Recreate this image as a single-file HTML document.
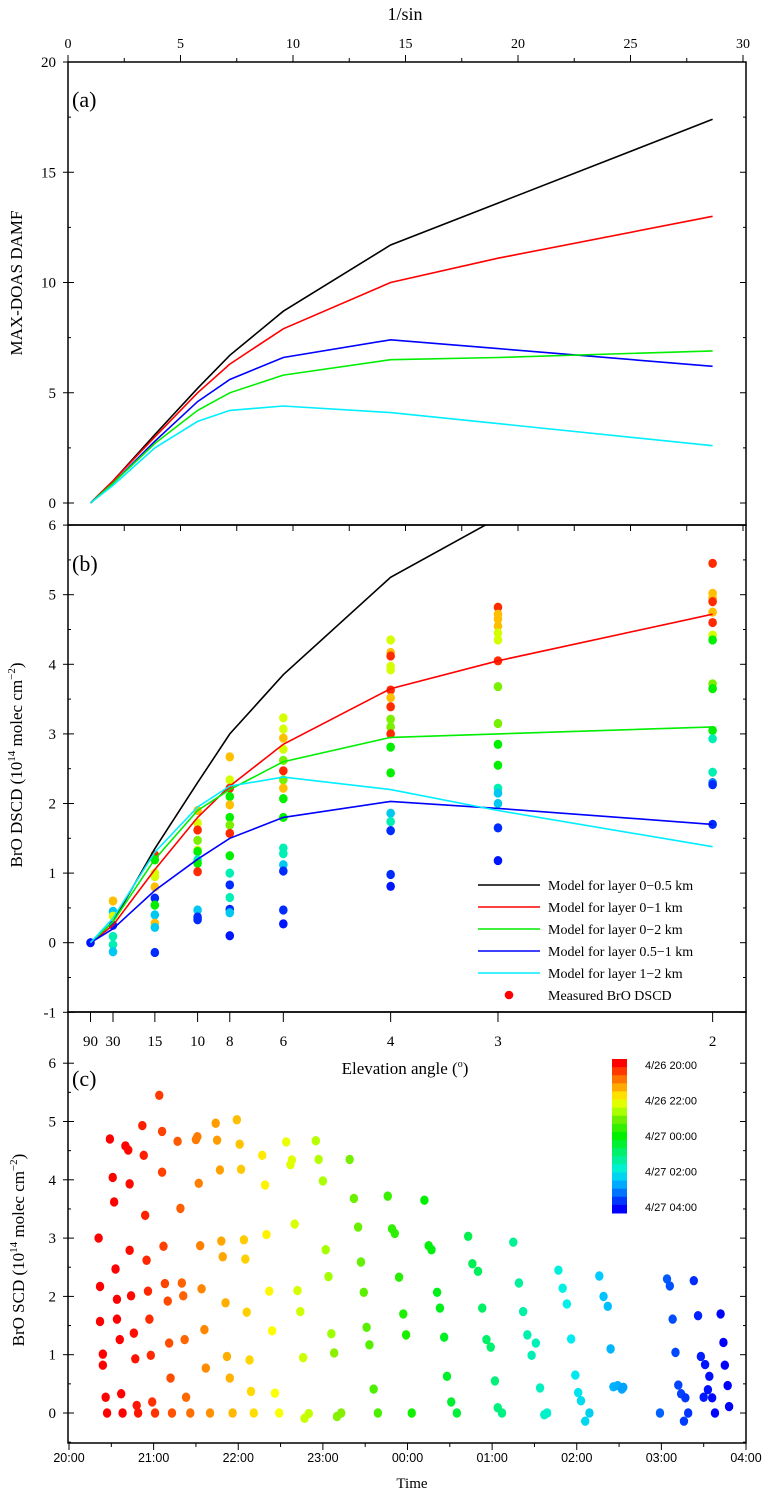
<!DOCTYPE html>
<html><head><meta charset="utf-8"><style>
body{margin:0;background:#fff;width:765px;height:1492px;overflow:hidden}
svg{display:block}
.s{font-family:"Liberation Serif",serif}
.a{font-family:"Liberation Sans",sans-serif}
</style></head><body>
<svg id="chart" width="765" height="1492" viewBox="0 0 765 1492" xmlns="http://www.w3.org/2000/svg">
<defs><clipPath id="clipb"><rect x="68" y="525" width="678" height="487"/></clipPath></defs>
</svg>
<script>
// ---- data ----
const invSinX = [1, 2, 3.86, 5.76, 7.19, 9.57, 14.34, 19.11, 28.65];
const elevLabels = ["90","30","15","10","8","6","4","3","2"];
const dampBlack = [0, 1.0, 3.1, 5.2, 6.7, 8.7, 11.7, 13.6, 17.4];
const dampRed = [0, 1.0, 3.0, 5.0, 6.3, 7.9, 10.0, 11.1, 13.0];
const dampBlue = [0, 0.9, 2.8, 4.6, 5.6, 6.6, 7.4, 7.0, 6.2];
const dampGreen = [0, 0.9, 2.7, 4.2, 5.0, 5.8, 6.5, 6.6, 6.9];
const dampCyan = [0, 0.8, 2.5, 3.7, 4.2, 4.4, 4.1, 3.6, 2.6];
const modBlack = [0, 0.3, 1.35, 2.3, 3.0, 3.85, 5.25, 6.1, 7.6];
const modRed = [0, 0.25, 1.05, 1.8, 2.25, 2.85, 3.65, 4.05, 4.72];
const modGreen = [0, 0.3, 1.2, 1.9, 2.2, 2.6, 2.95, 3.0, 3.1];
const modBlue = [0, 0.2, 0.75, 1.2, 1.5, 1.8, 2.03, 1.93, 1.7];
const modCyan = [0, 0.35, 1.3, 1.95, 2.25, 2.38, 2.2, 1.9, 1.38];
// measured points panel b: index into invSinX, value, time (minutes after 20:00 for colour)
const measIdx = [0,
1,1,1,1,1,1,1,
2,2,2,2,2,2,2,2,2,2,2,
3,3,3,3,3,3,3,3,3,3,3,3,
4,4,4,4,4,4,4,4,4,4,4,4,4,4,4,
5,5,5,5,5,5,5,5,5,5,5,5,5,5,5,5,
6,6,6,6,6,6,6,6,6,6,6,6,6,6,6,6,6,6,
7,7,7,7,7,7,7,7,7,7,7,7,7,7,7,7,
8,8,8,8,8,8,8,8,8,8,8,8,8,8,8,8];
const measVal = [0,
0.6,0.45,0.38,0.25,0.09,-0.03,-0.13,
1.26,1.19,1.0,0.95,0.8,0.64,0.54,0.4,0.28,0.22,-0.14,
1.9,1.72,1.62,1.47,1.33,1.31,1.19,1.14,1.02,0.47,0.37,0.33,
2.67,2.34,2.22,2.1,1.98,1.8,1.69,1.57,1.25,1.0,0.83,0.65,0.48,0.43,0.1,
3.23,3.07,2.94,2.78,2.62,2.47,2.34,2.22,2.07,1.8,1.36,1.28,1.12,1.03,0.47,0.27,
4.35,4.17,4.12,3.97,3.92,3.63,3.52,3.39,3.21,3.1,3.0,2.81,2.44,1.86,1.74,1.61,0.98,0.81,
4.82,4.72,4.65,4.55,4.45,4.35,4.05,3.68,3.15,2.85,2.55,2.22,2.15,2.0,1.65,1.18,
5.45,5.02,4.95,4.9,4.75,4.6,4.42,4.35,3.72,3.65,3.05,2.93,2.45,2.3,2.27,1.7];
const measTime = [470,
90,380,140,460,330,330,380,
20,240,140,140,90,460,240,380,90,380,460,
90,140,20,180,140,240,330,240,20,380,460,460,
90,140,20,240,90,240,180,20,240,330,460,330,460,380,470,
140,140,90,140,180,20,180,90,240,240,330,330,380,460,460,470,
140,90,20,140,140,20,90,20,180,180,20,240,240,380,330,460,460,470,
20,90,90,90,140,140,20,180,180,240,240,330,380,380,460,470,
20,90,90,20,90,20,140,240,180,240,240,330,330,420,460,460];
// panel c: minutes after 20:00, BrO SCD
const timeMin = [21,22,22,24,24,26,27,29,31,32,33,34,34,36,37,38,40,42,43,43,44,46,47,48,49,52,53,54,55,56,57,58,59,61,64,66,66,67,68,70,71,72,73,77,79,80,81,82,83,86,90,91,92,93,94,96,97,100,104,105,107,108,109,111,112,114,116,119,121,122,124,125,126,128,129,131,137,139,140,142,144,146,149,154,157,158,160,162,164,166,167,170,175,177,180,182,184,186,188,190,193,199,202,205,207,209,211,213,216,219,226,229,231,234,237,239,243,252,255,257,261,263,266,268,271,275,283,286,290,293,296,299,302,304,307,315,319,322,325,328,331,334,337,339,347,350,353,356,359,361,363,366,369,376,379,382,384,386,389,392,393,419,424,426,428,430,432,434,436,437,439,443,446,448,451,450,453,454,456,458,462,464,465,467,468];
const scdVal = [3.0,2.17,1.57,1.01,0.82,0.27,0,4.7,4.04,3.62,2.47,1.95,1.61,1.26,0.33,0,4.58,4.51,3.93,2.79,2.01,1.37,0.93,0.13,0,4.93,4.42,3.39,2.62,2.09,1.61,0.99,0.19,0,5.45,4.83,4.13,2.86,2.22,1.92,1.2,0.6,0,4.66,3.51,2.23,2.01,1.26,0.27,0,4.69,4.74,3.94,2.87,2.13,1.43,0.77,0,4.97,4.68,4.17,2.95,2.68,1.89,0.97,0.6,0,5.03,4.61,4.18,2.97,2.64,1.73,0.91,0.37,0,4.42,3.91,3.06,2.09,1.41,0.34,0,4.65,4.26,4.34,3.24,2.1,1.74,0.95,-0.09,-0.01,4.67,4.35,3.98,2.8,2.34,1.36,1.03,-0.06,0,4.35,3.68,3.19,2.59,2.07,1.47,1.17,0.41,0,3.72,3.16,3.08,2.33,1.7,1.34,0,3.65,2.87,2.8,2.07,1.8,1.3,0.63,0.19,0,3.03,2.56,2.43,1.8,1.26,1.13,0.55,0.09,0,2.93,2.23,1.74,1.34,0.99,1.2,0.43,-0.03,0,2.45,2.14,1.87,1.27,0.65,0.35,0.21,-0.14,0,2.35,2.0,1.83,1.1,0.45,0.47,0.41,0.44,0,2.3,2.18,1.61,1.04,0.48,0.33,-0.14,0.26,0,2.27,1.67,0.97,0.83,0.27,0.4,0.63,0.26,0,1.7,1.21,0.82,0.47,0.11];
const topTicks = [0,5,10,15,20,25,30];
const aTicks = [0,5,10,15,20];
const bTicks = [-1,0,1,2,3,4,5,6];
const cTicks = [0,1,2,3,4,5,6];
const hourLabels = ["20:00","21:00","22:00","23:00","00:00","01:00","02:00","03:00","04:00"];
const cbarLabels = ["4/26 20:00","4/26 22:00","4/27 00:00","4/27 02:00","4/27 04:00"];

// ---- scales ----
const L=68,R=746;
const x = v => 68 + 22.5*v;
const ya = v => 503 - 22.05*v;
const yb = v => 942.7 - 69.6*v;
const yc = v => 1413 - 58.3*v;
const xc = m => 69 + m*677/480;
const col = m => { const t=Math.max(0,Math.min(1,m/480)); return `hsl(${Math.round(t*240)},100%,${t>0.35&&t<0.8?47:50}%)`; };
const colC = m => col(Math.max(0,(m-40)*480/420));

const svg=document.getElementById('chart');
const NS='http://www.w3.org/2000/svg';
function mk(tag,attrs,parent){const e=document.createElementNS(NS,tag);for(const k in attrs)e.setAttribute(k,attrs[k]);(parent||svg).appendChild(e);return e;}
function txt(s,attrs,parent){const e=mk('text',attrs,parent);e.textContent=s;return e;}

// frames
let f;
f=mk('rect',{x:L,y:62,width:R-L,height:463,fill:'none',stroke:'#000','stroke-width':1.5});


f=mk('rect',{x:L,y:525,width:R-L,height:487,fill:'none',stroke:'#000','stroke-width':1.5});


f=mk('rect',{x:L,y:1012,width:R-L,height:431,fill:'none',stroke:'#000','stroke-width':1.5});



// top axis
const gTop=mk('g',{});


for(let v=0;v<=30;v+=2.5){mk('line',{x1:x(v),x2:x(v),y1:62,y2:v%5===0?55:58,stroke:'#000'},gTop);
  mk('line',{x1:x(v),x2:x(v),y1:525,y2:531,stroke:'#000'},gTop);}
topTicks.forEach(v=>{const t=txt(String(v),{x:x(v),y:48,'text-anchor':'middle','font-size':14,class:'s'},gTop);
  
  });
txt('1/sin',{x:405,y:20,'text-anchor':'middle','font-size':18,class:'s'},gTop);

// left axes
function leftAxis(ticks,yf,lo,hi,name,minorStep){
  const g=mk('g',{});
  
  
  for(let v=lo;v<=hi+1e-6;v+=minorStep){const maj=Math.abs(v-Math.round(v/ (ticks[1]-ticks[0]))*(ticks[1]-ticks[0]))<1e-6;
    mk('line',{x1:L,x2:L+(maj?6:3),y1:yf(v),y2:yf(v),stroke:'#000'},g);
    mk('line',{x1:R,x2:R-(maj?6:3),y1:yf(v),y2:yf(v),stroke:'#000'},g);
    mk('line',{x1:L,x2:L-(maj?5:0),y1:yf(v),y2:yf(v),stroke:'#000'},g);}
  ticks.forEach(v=>{const t=txt(String(v),{x:56,y:yf(v)+5,'text-anchor':'end','font-size':15,class:'s'},g);
    
    });
}
leftAxis(aTicks,ya,0,20,'panel-a-y-axis',2.5);
leftAxis(bTicks,yb,-1,6,'panel-b-y-axis',0.5);
leftAxis(cTicks,yc,-0.5,6,'panel-c-y-axis',0.5);

// axis titles
let t;
t=txt('MAX-DOAS DAMF',{x:0,y:0,transform:'translate(22,283) rotate(-90)','text-anchor':'middle','font-size':17,class:'s'});


t=mk('text',{transform:'translate(22,765) rotate(-90)','text-anchor':'middle','font-size':17,class:'s'});
t.innerHTML='BrO DSCD (10<tspan dy="-7" font-size="11">14</tspan><tspan dy="7"> molec cm</tspan><tspan dy="-7" font-size="11">−2</tspan><tspan dy="7">)</tspan>';


t=mk('text',{transform:'translate(24,1250) rotate(-90)','text-anchor':'middle','font-size':17,class:'s'});
t.innerHTML='BrO SCD (10<tspan dy="-7" font-size="11">14</tspan><tspan dy="7"> molec cm</tspan><tspan dy="-7" font-size="11">−2</tspan><tspan dy="7">)</tspan>';



// panel labels
t=txt('(a)',{x:72,y:107,'font-size':22,class:'s'});


t=txt('(b)',{x:72,y:571,'font-size':22,class:'s'});


t=txt('(c)',{x:72,y:1086,'font-size':22,class:'s'});



// elevation axis (top of panel c)
const gE=mk('g',{});


invSinX.forEach((v,i)=>{mk('line',{x1:x(v),x2:x(v),y1:1012,y2:1022,stroke:'#000'},gE);
  const tl=txt(elevLabels[i],{x:x(v),y:1046,'text-anchor':'middle','font-size':15,class:'s'},gE);
  
  });
t=mk('text',{x:405,y:1074,'text-anchor':'middle','font-size':17,class:'s'},gE);
t.innerHTML='Elevation  angle (<tspan dy="-7" font-size="10">o</tspan><tspan dy="7">)</tspan>';



// lines
function line(xs,ys,xf,yf,color,name,clip){
  const d=xs.map((v,i)=>(i?'L':'M')+xf(v).toFixed(1)+','+yf(ys[i]).toFixed(1)).join('');
  const p=mk('path',{d:d,fill:'none',stroke:color,'stroke-width':1.6});
  if(clip)p.setAttribute('clip-path','url(#clipb)');
  
  
}
line(invSinX,dampBlack,x,ya,'#000','damf-line-0-0.5km');
line(invSinX,dampRed,x,ya,'#ff0000','damf-line-0-1km');
line(invSinX,dampBlue,x,ya,'#0000ff','damf-line-0.5-1km');
line(invSinX,dampGreen,x,ya,'#00ee00','damf-line-0-2km');
line(invSinX,dampCyan,x,ya,'#00eeff','damf-line-1-2km');

// panel b measured dots
const gM=mk('g',{});


measVal.forEach((v,i)=>{const c=mk('ellipse',{cx:x(invSinX[measIdx[i]]),cy:yb(v),rx:4.3,ry:4.6,fill:col(measTime[i])},gM);
  
  });
line(invSinX,modBlack,x,yb,'#000','model-line-0-0.5km',true);
line(invSinX,modRed,x,yb,'#ff0000','model-line-0-1km',true);
line(invSinX,modGreen,x,yb,'#00ee00','model-line-0-2km',true);
line(invSinX,modBlue,x,yb,'#0000ff','model-line-0.5-1km',true);
line(invSinX,modCyan,x,yb,'#00eeff','model-line-1-2km',true);

// legend
const legNames=['Model for layer 0−0.5 km','Model for layer 0−1 km','Model for layer 0−2 km','Model for layer 0.5−1 km','Model for layer 1−2 km'];
const legCols=['#000','#ff0000','#00ee00','#0000ff','#00eeff'];
const gL=mk('g',{});


legNames.forEach((n,i)=>{const y=885+i*22;
  const g=mk('g',{},gL);
  
  
  mk('line',{x1:478,x2:540,y1:y,y2:y,stroke:legCols[i],'stroke-width':1.6},g);
  txt(n,{x:548,y:y+5,'font-size':14,class:'s'},g);});
const ge=mk('g',{},gL);


mk('circle',{cx:509,cy:995,r:4.3,fill:'#ff0000'},ge);
txt('Measured BrO DSCD',{x:548,y:1000,'font-size':14,class:'s'},ge);

// panel c x axis
const gX=mk('g',{});


for(let m=0;m<=480;m+=30){mk('line',{x1:xc(m),x2:xc(m),y1:1443,y2:m%60===0?1450:1447,stroke:'#000'},gX);}
hourLabels.forEach((h,i)=>{const tl=txt(h,{x:xc(i*60),y:1462,'text-anchor':'middle','font-size':12.5,class:'a'},gX);
  
  });
t=txt('Time',{x:412,y:1488,'text-anchor':'middle','font-size':15,class:'s'},gX);



// panel c dots
const gC=mk('g',{});


scdVal.forEach((v,i)=>{const c=mk('ellipse',{cx:xc(timeMin[i]),cy:yc(v),rx:4.2,ry:4.7,fill:colC(timeMin[i])},gC);
  
  });

// colorbar
const gB=mk('g',{});


const nSeg=19, cbTop=1059, cbBot=1213;
for(let i=0;i<nSeg;i++){mk('rect',{x:612,y:cbTop+i*(cbBot-cbTop)/nSeg,width:15,height:(cbBot-cbTop)/nSeg+0.5,fill:col(i*480/(nSeg-1))},gB);}
cbarLabels.forEach((s,i)=>{const tl=txt(s,{x:645,y:1069+i*35.5,'font-size':11,class:'a'},gB);
  
  });
</script>
</body></html>
